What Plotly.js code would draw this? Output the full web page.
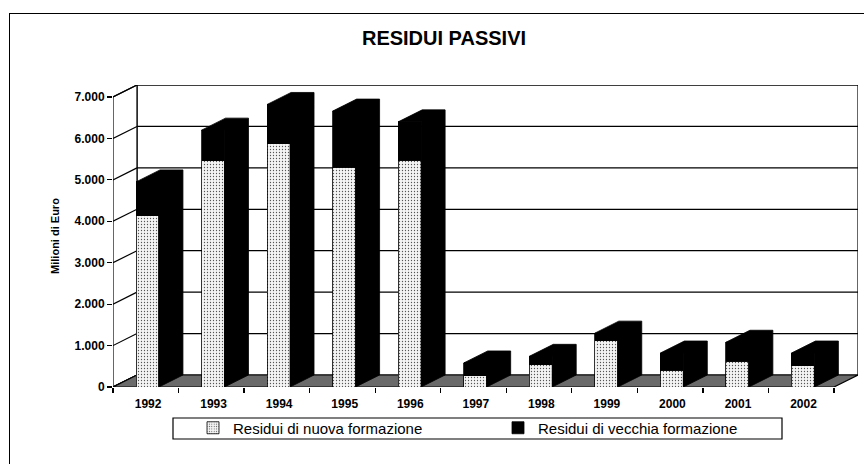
<!DOCTYPE html>
<html>
<head>
<meta charset="utf-8">
<script src="https://cdn.plot.ly/plotly-3.0.1.min.js"></script>
<style>
  html, body { margin:0; padding:0; background:#fff; overflow:hidden; }
  #chart { width:864px; height:464px; position:absolute; left:0; top:0; }
  #frame { position:absolute; left:9px; top:13px; width:1000px; height:1000px;
           border-left:1.5px solid #000; border-top:1.5px solid #000; pointer-events:none; }
</style>
</head>
<body>
<div id="chart"></div>
<div id="frame"></div>
<script>
// ---- data ----
const years = ['1992','1993','1994','1995','1996','1997','1998','1999','2000','2001','2002'];
const nuova = [4130, 5460, 5870, 5300, 5470, 270, 540, 1120, 400, 620, 510];
const vecchia = [820, 740, 950, 1360, 930, 310, 200, 180, 420, 460, 310];
const yTickVals = [0, 1000, 2000, 3000, 4000, 5000, 6000, 7000];
const yTickText = ['0', '1.000', '2.000', '3.000', '4.000', '5.000', '6.000', '7.000'];
const seriesNames = ['Residui di nuova formazione', 'Residui di vecchia formazione'];

// ---- 3D look geometry ----
const W = 0.35;     // front face width (category units)
const SHIFT = 0.026;
const DX = 0.366;   // depth, x (category units)
const DY = 290;     // depth, y (value units)
const N = years.length;
const X0 = -0.5, X1 = N - 0.5;

const xs = years.map((_, i) => i + SHIFT);
const totals = nuova.map((v, i) => v + vecchia[i]);

// side + top faces polygons derived from totals
const px = [], py = [];
xs.forEach((x, i) => {
  const t = totals[i];
  const l = x - W / 2, r = x + W / 2;
  px.push(r, r + DX, r + DX, l + DX, l, r, r, null);
  py.push(0, DY, t + DY, t + DY, t, t, 0, null);
});

const font = 'Liberation Sans, Arial, sans-serif';

const traces = [
  {
    type: 'bar', name: seriesNames[0], x: xs, y: nuova, width: W,
    marker: { color: '#fff', line: { color: '#000', width: 0.8 },
      pattern: { shape: '.', fgcolor: '#555', bgcolor: '#f4f4f4', size: 3, solidity: 0.15 } },
    hoverinfo: 'skip'
  },
  {
    type: 'bar', name: seriesNames[1], x: xs, y: vecchia, width: W,
    marker: { color: '#000', line: { color: '#000', width: 0.8 } },
    hoverinfo: 'skip'
  },
  {
    type: 'scatter', mode: 'lines', x: px, y: py, fill: 'toself',
    fillcolor: '#000', line: { color: '#000', width: 0.8 },
    showlegend: false, hoverinfo: 'skip'
  },
  {
    type: 'scatter', mode: 'markers', x: [X0], y: [0], xaxis: 'x2',
    marker: { opacity: 0 }, showlegend: false, hoverinfo: 'skip'
  }
];

const shapes = [];
const yTop = yTickVals[yTickVals.length - 1];
// back wall
shapes.push({ type: 'rect', layer: 'below', xref: 'x', yref: 'y',
  x0: X0 + DX, x1: X1 + DX, y0: DY, y1: yTop + DY,
  fillcolor: '#fff', line: { color: '#000', width: 1.2 } });
// left wall
shapes.push({ type: 'path', layer: 'below', xref: 'x', yref: 'y',
  path: `M ${X0},0 L ${X0},${yTop} L ${X0 + DX},${yTop + DY} L ${X0 + DX},${DY} Z`,
  fillcolor: '#fff', line: { color: '#000', width: 1.2 } });
// gridlines on back wall + slanted ticks on left wall
yTickVals.forEach(v => {
  if (v > 0) shapes.push({ type: 'line', layer: 'below', xref: 'x', yref: 'y',
    x0: X0 + DX, x1: X1 + DX, y0: v + DY, y1: v + DY, line: { color: '#000', width: 1.2 } });
  shapes.push({ type: 'line', layer: 'below', xref: 'x', yref: 'y',
    x0: X0, x1: X0 + DX, y0: v, y1: v + DY, line: { color: '#000', width: 1.2 } });
});
// floor
shapes.push({ type: 'path', layer: 'below', xref: 'x', yref: 'y',
  path: `M ${X0},0 L ${X1},0 L ${X1 + DX},${DY} L ${X0 + DX},${DY} Z`,
  fillcolor: '#6a6a6a', line: { color: '#000', width: 1.2 } });
// legend frame
shapes.push({ type: 'rect', xref: 'paper', yref: 'paper',
  x0: (173 - 113) / 745, x1: (782 - 113) / 745, y0: -(418 - 387) / 302, y1: -(439 - 387) / 302,
  fillcolor: 'rgba(0,0,0,0)', line: { color: '#000', width: 1.2 } });

const layout = {
  width: 864, height: 464,
  margin: { l: 113, r: 6, t: 85, b: 77 },
  paper_bgcolor: '#fff', plot_bgcolor: 'rgba(0,0,0,0)',
  barmode: 'stack', bargap: 0,
  font: { family: font, color: '#000' },
  title: { text: 'RESIDUI PASSIVI', font: { family: font, size: 20, weight: 700, color: '#000' },
    x: 444 / 864, xanchor: 'center', y: 1 - 38 / 464, yanchor: 'middle' },
  xaxis: { range: [X0, X1 + DX], tickvals: years.map((_, i) => i + 0.035), ticktext: years,
    showgrid: false, zeroline: false, showline: false, ticks: '',
    tickfont: { size: 12, family: font, weight: 700 }, ticklabelstandoff: 8, fixedrange: true },
  xaxis2: { overlaying: 'x', anchor: 'y', side: 'bottom', range: [X0, X1 + DX],
    tickvals: years.map((_, i) => i - 0.5).concat([X1]), ticks: 'outside', ticklen: 5,
    tickcolor: '#000', tickwidth: 1.2, showticklabels: false, showgrid: false,
    zeroline: false, showline: false },
  yaxis: { range: [0, yTop + DY], tickvals: yTickVals, ticktext: yTickText,
    showgrid: false, zeroline: false, showline: false, ticks: 'outside', ticklen: 5,
    tickcolor: '#000', tickwidth: 1.2, tickfont: { size: 12, family: font, weight: 700 },
    title: { text: 'Milioni di Euro', font: { size: 11, weight: 700, family: font }, standoff: 12 } },
  shapes: shapes,
  showlegend: true,
  legend: { orientation: 'h', x: (173 - 113) / 745, xanchor: 'left', y: -(428 - 387) / 302, yanchor: 'middle',
    borderwidth: 0, bgcolor: 'rgba(0,0,0,0)', traceorder: 'normal',
    font: { size: 15, family: font }, entrywidth: 240, indentation: 20, itemwidth: 30 }
};

Plotly.newPlot('chart', traces, layout, { displayModeBar: false, staticPlot: true });
</script>
</body>
</html>
